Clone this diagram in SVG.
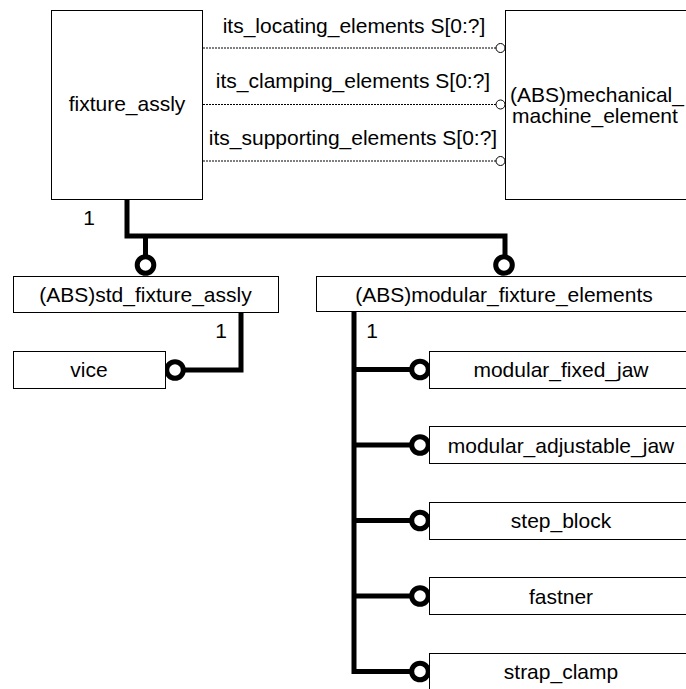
<svg xmlns="http://www.w3.org/2000/svg" width="686" height="689" viewBox="0 0 686 689">
<style>
.box{fill:#fff;stroke:#000;stroke-width:1}
.t{font-family:"Liberation Sans",Arial,sans-serif;font-size:21px;fill:#000;text-anchor:middle}
.thick{fill:none;stroke:#000;stroke-width:5;stroke-linejoin:miter}
.ring{fill:#fff;stroke:#000;stroke-width:5}
.dash{fill:none;stroke:#000;stroke-width:1;stroke-dasharray:2,1}
.small{fill:#fff;stroke:#000;stroke-width:1}
</style>
<rect width="686" height="689" fill="#fff"/>
<g id="connectors">
  <line class="dash" x1="203" y1="48" x2="496" y2="48"/>
  <line class="dash" x1="203" y1="104.5" x2="496" y2="104.5"/>
  <line class="dash" x1="203" y1="161" x2="496" y2="161"/>
  <circle class="small" cx="500.5" cy="48" r="4.5"/>
  <circle class="small" cx="500.5" cy="104.5" r="4.5"/>
  <circle class="small" cx="500.5" cy="161" r="4.5"/>
  <text class="t" x="354" y="33">its_locating_elements S[0:?]</text>
  <text class="t" x="353" y="88">its_clamping_elements S[0:?]</text>
  <text class="t" x="353" y="145">its_supporting_elements S[0:?]</text>
  <polyline class="thick" points="127,199 127,236 505,236 505,256"/>
  <line class="thick" x1="145.5" y1="236" x2="145.5" y2="256"/>
  <circle class="ring" cx="145.5" cy="265" r="8.3"/>
  <circle class="ring" cx="504" cy="265" r="8.3"/>
  <text class="t" x="89" y="225">1</text>
  <polyline class="thick" points="241,312 241,370 184,370"/>
  <circle class="ring" cx="175" cy="370" r="8.3"/>
  <text class="t" x="221" y="338">1</text>
  <polyline class="thick" points="354,312 354,671.5 412,671.5"/>
  <line class="thick" x1="354" y1="369.5" x2="412" y2="369.5"/>
  <line class="thick" x1="354" y1="445" x2="412" y2="445"/>
  <line class="thick" x1="354" y1="520.5" x2="412" y2="520.5"/>
  <line class="thick" x1="354" y1="596" x2="412" y2="596"/>
  <circle class="ring" cx="420" cy="369.5" r="8.3"/>
  <circle class="ring" cx="420" cy="445" r="8.3"/>
  <circle class="ring" cx="420" cy="520.5" r="8.3"/>
  <circle class="ring" cx="420" cy="596" r="8.3"/>
  <circle class="ring" cx="420" cy="671.5" r="8.3"/>
  <text class="t" x="372" y="338">1</text>
</g>
<g id="fixture_assly">
  <rect class="box" x="51.5" y="10.5" width="151" height="189"/>
  <text class="t" x="127" y="111">fixture_assly</text>
</g>
<g id="mechanical_machine_element">
  <rect class="box" x="505.5" y="10.5" width="184" height="189"/>
  <text class="t" x="597" y="102">(ABS)mechanical_</text>
  <text class="t" x="595" y="123">machine_element</text>
</g>
<g id="std_fixture_assly">
  <rect class="box" x="13.5" y="276.5" width="265" height="36"/>
  <text class="t" x="145.5" y="302">(ABS)std_fixture_assly</text>
</g>
<g id="modular_fixture_elements">
  <rect class="box" x="316.5" y="276.5" width="376" height="35"/>
  <text class="t" x="504" y="302">(ABS)modular_fixture_elements</text>
</g>
<g id="vice">
  <rect class="box" x="13.5" y="351.5" width="152" height="37"/>
  <text class="t" x="89" y="377">vice</text>
</g>
<g id="modular_fixed_jaw">
  <rect class="box" x="429.5" y="351.5" width="264" height="37"/>
  <text class="t" x="561" y="377">modular_fixed_jaw</text>
</g>
<g id="modular_adjustable_jaw">
  <rect class="box" x="429.5" y="426.5" width="264" height="37"/>
  <text class="t" x="561" y="452.5">modular_adjustable_jaw</text>
</g>
<g id="step_block">
  <rect class="box" x="429.5" y="502.5" width="264" height="37"/>
  <text class="t" x="561" y="528">step_block</text>
</g>
<g id="fastner">
  <rect class="box" x="429.5" y="577.5" width="264" height="37"/>
  <text class="t" x="561" y="603.5">fastner</text>
</g>
<g id="strap_clamp">
  <rect class="box" x="429.5" y="653.5" width="264" height="37"/>
  <text class="t" x="561" y="679">strap_clamp</text>
</g>
</svg>
